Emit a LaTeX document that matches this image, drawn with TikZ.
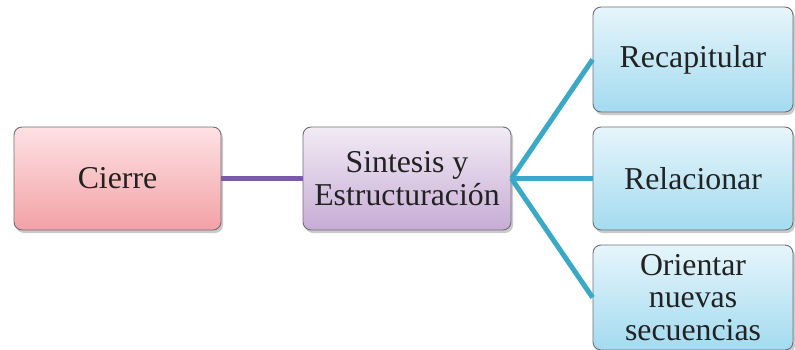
\documentclass[tikz,border=0pt]{standalone}
\usepackage{fontspec}
\setmainfont{Liberation Serif}
\usetikzlibrary{shadows}

\definecolor{pinkTop}{HTML}{FDE2E4}
\definecolor{pinkBot}{HTML}{F3A1A6}
\definecolor{lilacTop}{HTML}{F2EBF5}
\definecolor{lilacBot}{HTML}{C7ACD5}
\definecolor{skyTop}{HTML}{E6F5FB}
\definecolor{skyBot}{HTML}{A3DBEF}
\definecolor{edgeGray}{HTML}{6E6E78}
\definecolor{linkPurple}{HTML}{7A5AA3}
\definecolor{linkTeal}{HTML}{3BA8C5}
\definecolor{inkDark}{HTML}{222222}

\tikzset{
  card/.style={draw=edgeGray, line width=0.9pt, rounded corners=8pt,
    align=center, text=inkDark, inner sep=2pt,
    font=\fontsize{31.8}{32.5}\selectfont,
    drop shadow={shadow xshift=2pt, shadow yshift=-3pt, opacity=0.35, fill=black!60}},
  pinkcard/.style={card, top color=pinkTop, bottom color=pinkBot},
  lilaccard/.style={card, top color=lilacTop, bottom color=lilacBot},
  skycard/.style={card, top color=skyTop, bottom color=skyBot,
    minimum width=200pt},
  purplelink/.style={draw=linkPurple, line width=4.5pt},
  teallink/.style={draw=linkTeal, line width=5pt},
}

\begin{document}
\begin{tikzpicture}[x=1pt, y=-1pt]
  \useasboundingbox (0,0) rectangle (795,349);

  \node[pinkcard, minimum width=207pt, minimum height=103pt] (cierre) at (117.5,178.5) {Cierre};
  \node[lilaccard, minimum width=208pt, minimum height=103pt] (sintesis) at (407,178.5) {Sintesis y\\Estructuración};

  \node[skycard, minimum height=105pt] (recap) at (693,59.5) {Recapitular};
  \node[skycard, minimum height=103pt] (relac) at (693,178.5) {Relacionar};
  \node[skycard, minimum height=105pt] (orient) at (693,297.5) {Orientar\\nuevas\\secuencias};

  \draw[purplelink] (cierre.east) -- (sintesis.west);
  \draw[teallink] (sintesis.east) -- (recap.west);
  \draw[teallink] (sintesis.east) -- (relac.west);
  \draw[teallink] (sintesis.east) -- (orient.west);
\end{tikzpicture}
\end{document}
